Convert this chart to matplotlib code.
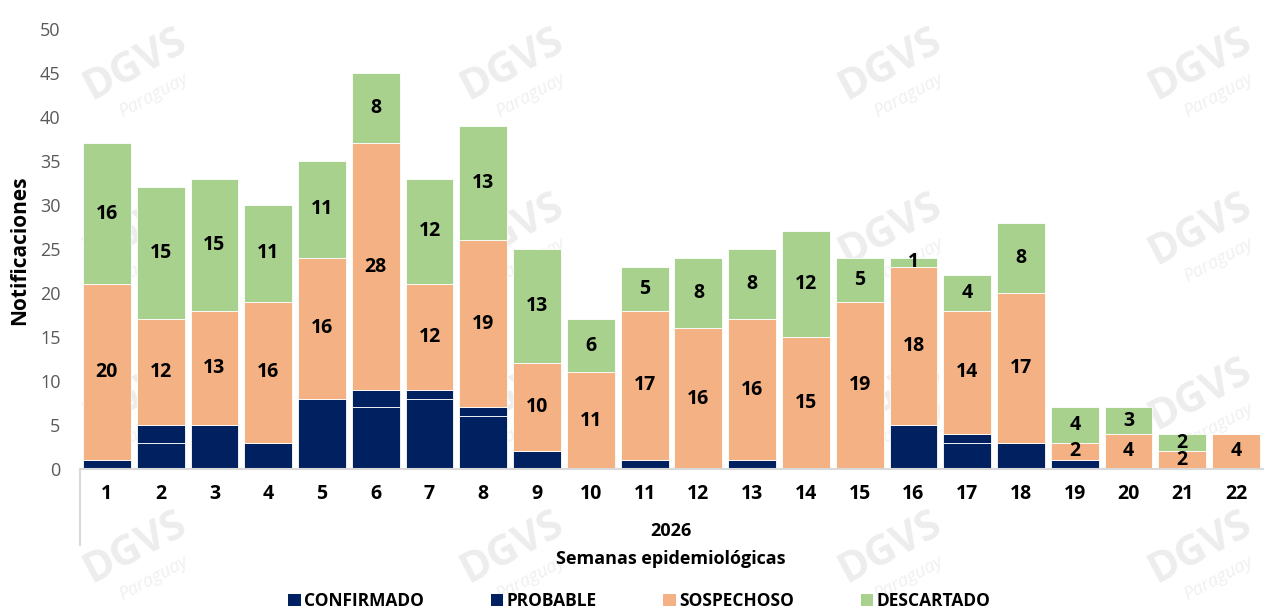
import matplotlib.pyplot as plt
import numpy as np
from matplotlib.patches import Patch

plt.rcParams['font.family'] = ['Open Sans', 'DejaVu Sans']

# weekly notifications (semanas epidemiologicas 2026)
weeks = [str(i) for i in range(1, 23)]
confirmado = [1, 3, 5, 3, 8, 7, 8, 6, 2, 0, 1, 0, 1, 0, 0, 5, 3, 3, 1, 0, 0, 0]
probable = [0, 2, 0, 0, 0, 2, 1, 1, 0, 0, 0, 0, 0, 0, 0, 0, 1, 0, 0, 0, 0, 0]
sospechoso = [20, 12, 13, 16, 16, 28, 12, 19, 10, 11, 17, 16, 16, 15, 19, 18, 14, 17, 2, 4, 2, 4]
descartado = [16, 15, 15, 11, 11, 8, 12, 13, 13, 6, 5, 8, 8, 12, 5, 1, 4, 8, 4, 3, 2, 0]

c_navy = '#002060'
c_peach = '#F4B183'
c_green = '#A9D18E'

W, H = 1266, 610
fig = plt.figure(figsize=(W / 100, H / 100), dpi=100)
fig.patch.set_facecolor('white')

# faint watermark behind everything
for wy in [65, 230, 395, 548]:
    for wx in [135, 512, 890, 1200]:
        fig.text(wx / W, 1 - wy / H, 'DGVS', fontsize=30, fontweight='bold',
                 color='#ededed', rotation=28, ha='center', va='center', zorder=-5)
        fig.text((wx + 18) / W, 1 - (wy + 30) / H, 'Paraguay', fontsize=13,
                 style='italic', color='#f0f0f0', rotation=28,
                 ha='center', va='center', zorder=-5)

ax = fig.add_axes([80 / W, 141 / H, (1263 - 80) / W, 440 / H])
ax.set_facecolor('none')

x = np.arange(len(weeks))
conf = np.array(confirmado)
prob = np.array(probable)
sosp = np.array(sospechoso)
desc = np.array(descartado)

bw = 0.89
kw = dict(width=bw, edgecolor='white', linewidth=0.6, zorder=2)
ax.bar(x, conf, color=c_navy, **kw)
ax.bar(x, prob, bottom=conf, color=c_navy, **kw)
b_s = ax.bar(x, sosp, bottom=conf + prob, color=c_peach, **kw)
b_d = ax.bar(x, desc, bottom=conf + prob + sosp, color=c_green, **kw)

for bars, vals in [(b_s, sosp), (b_d, desc)]:
    for rect, v in zip(bars, vals):
        if v == 0:
            continue
        ax.text(rect.get_x() + rect.get_width() / 2, rect.get_y() + rect.get_height() / 2,
                str(v), ha='center', va='center', fontsize=14, fontweight='bold',
                color='black', zorder=3)

ax.set_xlim(-0.5, len(weeks) - 0.5)
ax.set_ylim(0, 50)
ax.set_yticks(range(0, 51, 5))
ax.set_xticks(x)
ax.set_xticklabels(weeks, fontsize=14, fontweight='bold')
ax.tick_params(axis='x', length=0, pad=11)
ax.tick_params(axis='y', length=0, pad=14, labelsize=13, labelcolor='#595959')

for s in ['top', 'right', 'left']:
    ax.spines[s].set_visible(False)
ax.spines['bottom'].set_color('#d9d9d9')
ax.spines['bottom'].set_linewidth(1.5)
ax.plot([0, 0], [0, -76 / 440], transform=ax.transAxes, color='#d9d9d9',
        linewidth=1.5, clip_on=False)

fig.text(671 / W, 1 - 531 / H, '2026', ha='center', va='center',
         fontsize=13, fontweight='bold')
fig.text(671 / W, 1 - 559 / H, 'Semanas epidemiológicas', ha='center', va='center',
         fontsize=13, fontweight='bold')
fig.text(20 / W, 1 - 250 / H, 'Notificaciones', ha='center', va='center',
         rotation=90, fontsize=15, fontweight='bold')

handles = [Patch(facecolor=c_navy), Patch(facecolor=c_navy),
           Patch(facecolor=c_peach), Patch(facecolor=c_green)]
labels = ['CONFIRMADO', 'PROBABLE', 'SOSPECHOSO', 'DESCARTADO']
leg = fig.legend(handles, labels, loc='center', bbox_to_anchor=(0.505, 1 - 601 / H),
                 ncol=4, frameon=False, handlelength=0.7, handleheight=0.7,
                 handletextpad=0.2, columnspacing=3.85,
                 prop={'size': 12.5, 'weight': 'bold'})

fig.savefig('out.png', dpi=100, facecolor='white')
